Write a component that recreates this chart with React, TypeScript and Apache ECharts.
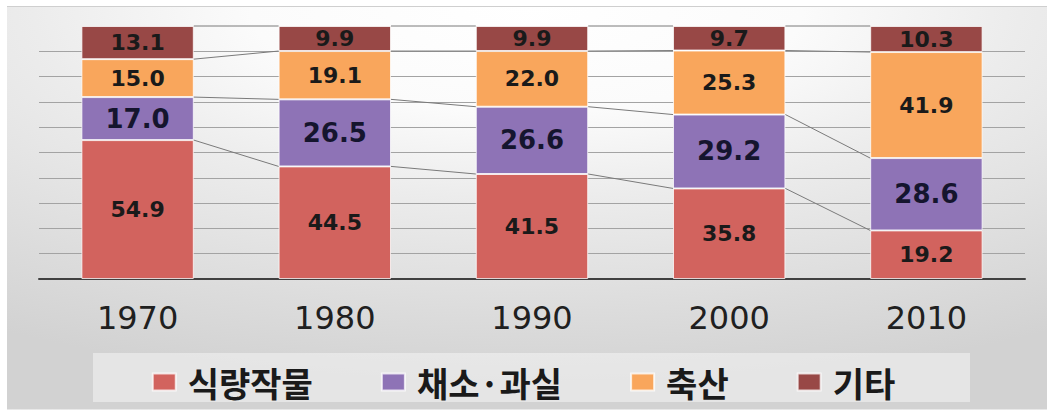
import React, { useEffect, useRef } from "react";
import * as echarts from "echarts";

const years = ["1970", "1980", "1990", "2000", "2010"];
const seriesNames = ["식량작물", "채소·과실", "축산", "기타"];
const foodCrops = [54.9, 44.5, 41.5, 35.8, 19.2];
const vegFruit = [17.0, 26.5, 26.6, 29.2, 28.6];
const livestock = [15.0, 19.1, 22.0, 25.3, 41.9];
const others = [13.1, 9.9, 9.9, 9.7, 10.3];
const yMin = 0;
const yMax = 100;
const yInterval = 10;

const colors = ["#D2635E", "#8E73B6", "#F9A65C", "#984846"];
const BAR_RATIO = 0.57;

export default function App() {
  const ref = useRef<HTMLDivElement>(null);

  useEffect(() => {
    document.body.style.margin = "0";
    if (!ref.current) return;
    const chart = echarts.init(ref.current, null, { renderer: "svg" });

    const seriesData = [foodCrops, vegFruit, livestock, others];
    const cums: number[][] = [];
    seriesData.forEach((arr, k) => {
      cums.push(arr.map((v, i) => (k === 0 ? 0 : cums[k - 1][i]) + v));
    });
    const lineData: number[][] = [];
    cums.forEach((c) => {
      for (let i = 0; i < c.length - 1; i++) lineData.push([i, c[i], c[i + 1]]);
    });

    const nTicks = Math.round((yMax - yMin) / yInterval) + 1;
    const splitColors: string[] = [];
    for (let i = 0; i < nTicks; i++) {
      splitColors.push(i === nTicks - 1 ? "rgba(0,0,0,0)" : "#a3a3a3");
    }

    const barSeries = seriesData.map((arr, k) => ({
      name: seriesNames[k],
      type: "bar",
      stack: "total",
      barWidth: "57%",
      data: arr,
      itemStyle: {
        color: colors[k],
        borderColor: "rgba(255,255,255,0.75)",
        borderWidth: 1,
      },
      label: {
        show: true,
        position: "inside",
        formatter: (p: any) => Number(p.value).toFixed(1),
        fontFamily: "DejaVu Sans",
        fontWeight: "bold",
        fontSize: k === 1 ? 26 : 22,
        color: k === 1 ? "#15152e" : "#1a1a1a",
      },
      z: 2,
    }));

    chart.setOption({
      animation: false,
      backgroundColor: "#ffffff",
      graphic: [
        {
          type: "rect",
          z: -10,
          x: 7,
          y: 6,
          scaleY: 404 / 1040,
          shape: { x: 0, y: 0, width: 1040, height: 1040 },
          style: {
            fill: {
              type: "radial",
              x: 0.5,
              y: 0,
              r: 0.95,
              colorStops: [
                { offset: 0, color: "#ffffff" },
                { offset: 0.28, color: "#fbfbfb" },
                { offset: 0.5, color: "#ececec" },
                { offset: 0.8, color: "#dcdcdc" },
                { offset: 1, color: "#d2d2d2" },
              ],
            },
          },
          silent: true,
        },
        {
          type: "line",
          z: -9,
          shape: { x1: 7, y1: 6.5, x2: 1047, y2: 6.5 },
          style: { stroke: "#cfcfcf", lineWidth: 1 },
          silent: true,
        },
        {
          type: "rect",
          z: 1,
          shape: { x: 93, y: 353, width: 877, height: 49 },
          style: { fill: "rgba(255,255,255,0.42)" },
          silent: true,
        },
      ],
      grid: { left: 39, right: 22, top: 26, bottom: 131 },
      legend: {
        data: seriesNames,
        top: 359,
        left: "center",
        icon: "rect",
        itemWidth: 23,
        itemHeight: 17,
        itemGap: 68,
        textStyle: {
          fontFamily: "Noto Sans CJK KR",
          fontWeight: "bold",
          fontSize: 34,
          lineHeight: 36,
          color: "#1a1a1a",
          padding: [0, 0, 0, 7],
        },
      },
      xAxis: {
        type: "category",
        data: years,
        axisLine: { lineStyle: { color: "#404040", width: 2 } },
        axisTick: { show: false },
        axisLabel: {
          fontFamily: "DejaVu Sans",
          fontSize: 32,
          color: "#202020",
          margin: 23,
        },
      },
      yAxis: {
        type: "value",
        min: yMin,
        max: yMax,
        interval: yInterval,
        axisLabel: { show: false },
        axisLine: { show: false },
        axisTick: { show: false },
        splitLine: {
          show: true,
          lineStyle: { color: splitColors, width: 1 },
        },
      },
      series: [
        ...barSeries,
        {
          type: "custom",
          name: "seriesLines",
          data: lineData,
          encode: { x: 0, y: 1 },
          z: 3,
          silent: true,
          renderItem: (params: any, api: any) => {
            const xi = api.value(0);
            const p1 = api.coord([xi, api.value(1)]);
            const p2 = api.coord([xi + 1, api.value(2)]);
            const band = api.size([1, 0])[0];
            const hw = (band * BAR_RATIO) / 2;
            return {
              type: "line",
              shape: { x1: p1[0] + hw, y1: p1[1], x2: p2[0] - hw, y2: p2[1] },
              style: { stroke: "#7a7a7a", lineWidth: 1 },
            };
          },
        },
      ],
    });

    return () => chart.dispose();
  }, []);

  return <div ref={ref} style={{ width: 1047, height: 410 }} />;
}
